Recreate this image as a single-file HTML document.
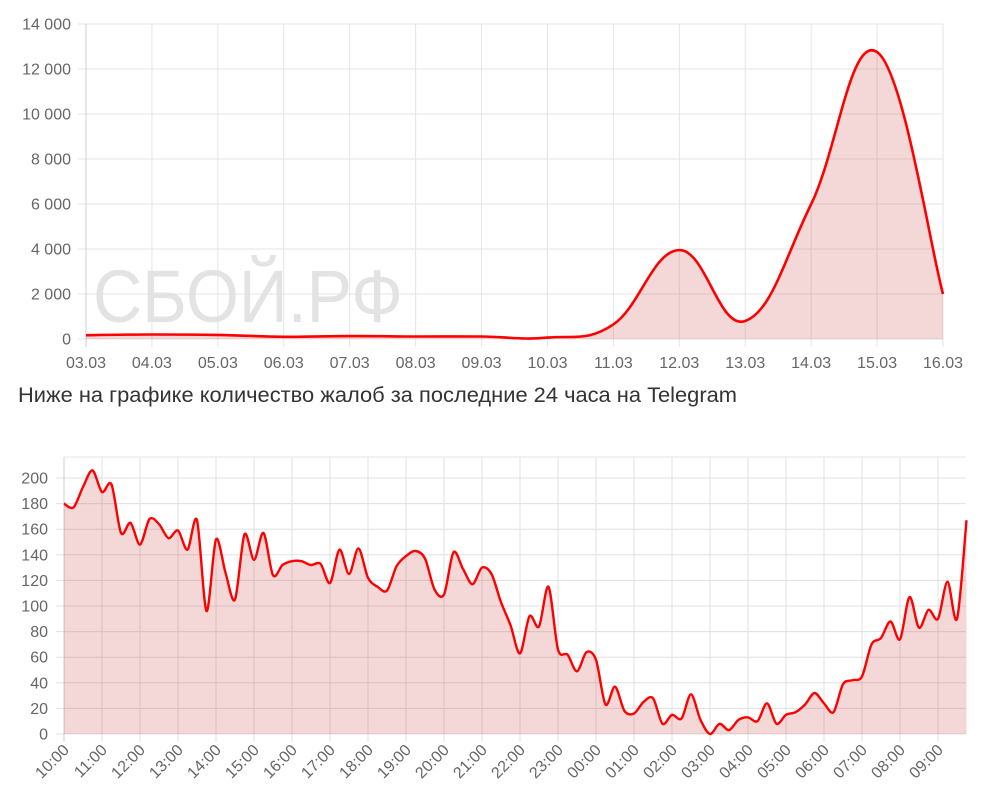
<!DOCTYPE html>
<html><head><meta charset="utf-8"><style>
html,body{margin:0;padding:0;background:#fff;width:984px;height:796px;overflow:hidden}
svg{position:absolute;left:0;top:0}
text{font-family:"Liberation Sans",sans-serif;fill:#666}
</style></head><body>
<svg id="s" width="984" height="796" viewBox="0 0 984 796"></svg>
<script>
const NS="http://www.w3.org/2000/svg",S=document.getElementById('s');
function el(t,a,txt){const e=document.createElementNS(NS,t);for(const k in a)e.setAttribute(k,a[k]);if(txt!=null)e.textContent=txt;S.appendChild(e);return e;}
function smooth(p,t){let d=`M${p[0][0]},${p[0][1]}`;for(let i=0;i<p.length-1;i++){const p0=p[i-1]||p[i],p1=p[i],p2=p[i+1],p3=p[i+2]||p2;
const c1=[p1[0]+(p2[0]-p0[0])*t/2,p1[1]+(p2[1]-p0[1])*t/2],c2=[p2[0]-(p3[0]-p1[0])*t/2,p2[1]-(p3[1]-p1[1])*t/2];
d+=`C${c1[0].toFixed(1)},${c1[1].toFixed(1)} ${c2[0].toFixed(1)},${c2[1].toFixed(1)} ${p2[0].toFixed(1)},${p2[1].toFixed(1)}`;}return d;}
// Top chart
const L1=86,R1=943,T1=24,B1=339;
for(let i=0;i<=7;i++){const y=B1-i*45;el('line',{x1:78,x2:R1,y1:y,y2:y,stroke:'#e4e4e4','stroke-width':1});
el('text',{x:71,y:y+5.5,'text-anchor':'end','font-size':16},i==0?'0':(i*2)+' 000');}
const days=['03.03','04.03','05.03','06.03','07.03','08.03','09.03','10.03','11.03','12.03','13.03','14.03','15.03','16.03'];
days.forEach((d,i)=>{const x=L1+i*(R1-L1)/13;el('line',{x1:x,x2:x,y1:T1,y2:B1+8,stroke:i==0?'#cfcfcf':'#e4e4e4'});
el('text',{x:x,y:368,'text-anchor':'middle','font-size':16},d);});
el('text',{x:93,y:322,'font-size':74,textLength:310,lengthAdjust:'spacingAndGlyphs',style:'fill:#e3e3e3'},'СБОЙ.РФ');
const v1=[170,200,180,100,130,110,110,60,650,3950,800,6000,12750,2000];
const p1=v1.map((v,i)=>[L1+i*(R1-L1)/13,B1-v*45/2000]);
const d1=smooth(p1,0.4);
el('path',{d:d1+`L${R1},${B1}L${L1},${B1}Z`,fill:'rgba(200,60,60,0.2)'});
el('path',{d:d1,fill:'none',stroke:'#f00','stroke-width':2.6});
// Text
el('text',{x:18,y:402,'font-size':21,textLength:719,lengthAdjust:'spacingAndGlyphs',style:'fill:#333'},'Ниже на графике количество жалоб за последние 24 часа на Telegram');
// Bottom chart
const L2=64,R2=966,T2=457,B2=734,K=1.28;
el('line',{x1:L2,x2:R2,y1:T2,y2:T2,stroke:'#e4e4e4'});
for(let i=0;i<=10;i++){const y=B2-i*20*K;el('line',{x1:56,x2:R2,y1:y,y2:y,stroke:'#e0e0e0'});
el('text',{x:48,y:y+5.5,'text-anchor':'end','font-size':16},String(i*20));}
const hrs=['10:00','11:00','12:00','13:00','14:00','15:00','16:00','17:00','18:00','19:00','20:00','21:00','22:00','23:00','00:00','01:00','02:00','03:00','04:00','05:00','06:00','07:00','08:00','09:00'];
hrs.forEach((h,i)=>{const x=L2+i*38;el('line',{x1:x,x2:x,y1:T2,y2:B2+8,stroke:i==0?'#cfcfcf':'#e0e0e0'});
el('text',{x:0,y:0,'text-anchor':'end','font-size':16,transform:`translate(${x+6},${B2+17}) rotate(-45)`},h);});
const v2=[180,177,193,206,189,195,157,165,148,168,164,153,159,144,167,96,152,126,105,156,136,157,124,132,135,135,132,133,118,144,125,145,122,115,112,131,
139,143,137,113,109,142,129,117,130,125,103,85,63,92,84,115,66,62,49,64,58,23,37,18,16,25,28,8,15,12,31,11,
0,8,3,11,13,10,24,8,15,17,23,32,24,17,39,42,45,70,75,88,74,107,83,97,90,119,90,167];
const p2=v2.map((v,i)=>[L2+i*9.5,B2-v*K]);
const d2=smooth(p2,0.3);
el('path',{d:d2+`L${p2[p2.length-1][0]},${B2}L${L2},${B2}Z`,fill:'rgba(200,60,60,0.2)'});
el('path',{d:d2,fill:'none',stroke:'#f00','stroke-width':2.4,'stroke-linejoin':'round'});
</script>
</body></html>
